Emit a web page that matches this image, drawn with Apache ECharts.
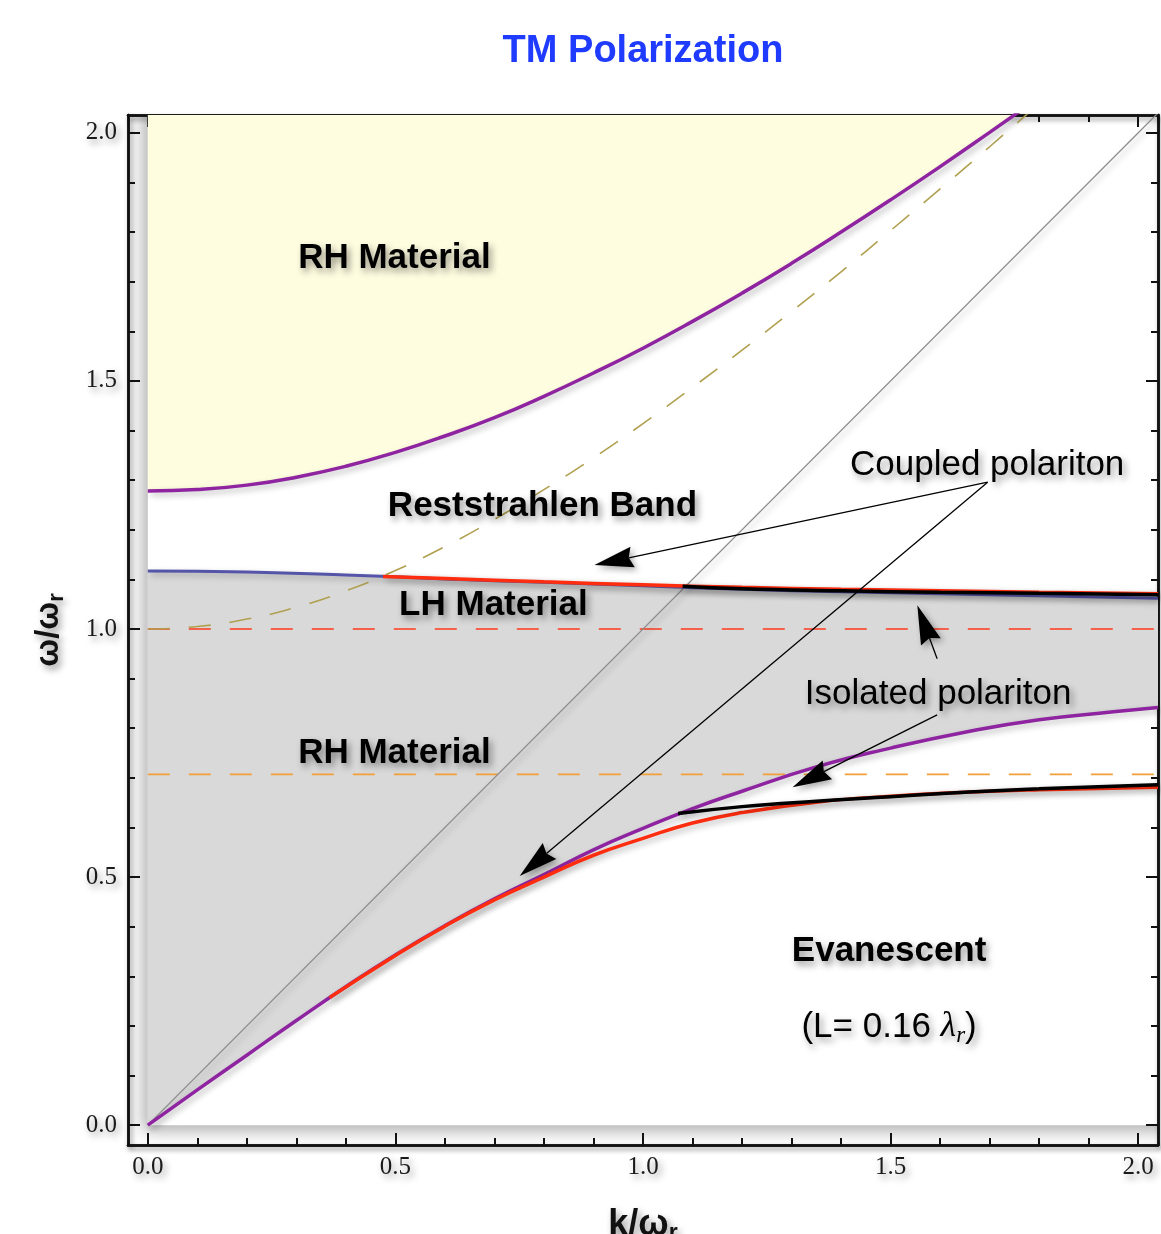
<!DOCTYPE html>
<html>
<head>
<meta charset="utf-8">
<script src="https://cdn.jsdelivr.net/npm/echarts@6/dist/echarts.min.js"></script>
<style>
  html, body { margin: 0; padding: 0; background: #ffffff; }
  #chart { width: 1161px; height: 1234px; }
</style>
</head>
<body>
<div id="chart"></div>
<script>
// ---- axis extents (k/ωr horizontally, ω/ωr vertically) ----
const K_MIN = -0.04, K_MAX = 2.04;
const W_MIN = -0.04, W_MAX = 2.036;
const majorTicks = [0, 0.5, 1.0, 1.5, 2.0];
const minorTicks = [0.1, 0.2, 0.3, 0.4, 0.6, 0.7, 0.8, 0.9, 1.1, 1.2, 1.3, 1.4, 1.6, 1.7, 1.8, 1.9];

// lower edge of the upper right-handed band
const upperRhK = [0, 0.1, 0.2, 0.3, 0.4, 0.5, 0.6, 0.7, 0.8, 0.9, 1.0, 1.1, 1.2, 1.3, 1.4, 1.5, 1.6, 1.7, 1.76];
const upperRhW = [1.278, 1.281, 1.290, 1.306, 1.328, 1.356, 1.389, 1.426, 1.469, 1.516, 1.566, 1.620, 1.677, 1.737, 1.800, 1.865, 1.932, 2.001, 2.043];

// light line in the medium (dashed)
const mediumLightK = [0, 0.1, 0.2, 0.3, 0.4, 0.5, 0.6, 0.7, 0.8, 0.9, 1.0, 1.1, 1.2, 1.3, 1.4, 1.5, 1.6, 1.7, 1.8];
const mediumLightW = [1.000, 1.005, 1.020, 1.044, 1.077, 1.118, 1.166, 1.221, 1.281, 1.345, 1.414, 1.487, 1.562, 1.640, 1.720, 1.803, 1.887, 1.972, 2.059];

// upper edge of the left-handed band
const lhTopK = [0, 0.2, 0.4, 0.6, 0.8, 1.0, 1.2, 1.4, 1.6, 1.8, 2.04];
const lhTopW = [1.117, 1.115, 1.109, 1.101, 1.094, 1.087, 1.080, 1.075, 1.071, 1.067, 1.062];

// upper edge of the lower right-handed band
const rhLowK = [0, 0.1, 0.2, 0.3, 0.4, 0.5, 0.6, 0.7, 0.8, 0.9, 1.0, 1.1, 1.2, 1.35, 1.5, 1.65, 1.8, 1.95, 2.04];
const rhLowW = [0, 0.071, 0.141, 0.211, 0.279, 0.343, 0.402, 0.456, 0.505, 0.555, 0.598, 0.638, 0.673, 0.722, 0.760, 0.792, 0.817, 0.833, 0.842];

// coupled polariton branches (red)
const coupledUpK = [0.475, 0.6, 0.8, 1.0, 1.2, 1.4, 1.6, 1.8, 2.04];
const coupledUpW = [1.106, 1.102, 1.095, 1.089, 1.084, 1.080, 1.077, 1.074, 1.071];
const coupledLowK = [0.367, 0.5, 0.6, 0.7, 0.8, 0.9, 1.0, 1.1, 1.2, 1.35, 1.5, 1.65, 1.8, 2.04];
const coupledLowW = [0.257, 0.342, 0.401, 0.454, 0.500, 0.544, 0.578, 0.609, 0.630, 0.651, 0.663, 0.671, 0.676, 0.681];

// isolated polariton branches (black)
const isolatedUpK = [1.08, 1.2, 1.4, 1.6, 1.8, 2.04];
const isolatedUpW = [1.086, 1.081, 1.077, 1.074, 1.072, 1.069];
const isolatedLowK = [1.071, 1.2, 1.35, 1.5, 1.65, 1.8, 2.04];
const isolatedLowW = [0.628, 0.642, 0.653, 0.662, 0.671, 0.678, 0.686];

// vacuum light line and horizontal reference levels
const vacuumK = [0, 2.1];
const vacuumW = [0, 2.1];
const levelResonance = 1.0;
const levelLower = 0.707;

// annotation arrows: tail and tip, in (k, ω)
const arrowTails = [[1.696, 1.296], [1.696, 1.296], [1.594, 0.827], [1.594, 0.940]];
const arrowTips  = [[0.902, 1.129], [0.751, 0.502], [1.302, 0.681], [1.554, 1.048]];

// region and branch labels
const labelTexts = ['RH Material', 'Reststrahlen Band', 'LH Material', 'RH Material',
                    'Evanescent', 'Coupled polariton', 'Isolated polariton', 'L'];
const labelAnchors = [[0.498, 1.748], [0.797, 1.248], [0.698, 1.048], [0.498, 0.750],
                      [1.497, 0.351], [1.695, 1.329], [1.596, 0.869], [1.497, 0.198]];
const labelBold = [true, true, true, true, true, false, false, false];

const zip = (ks, ws) => ks.map((k, i) => [k, ws[i]]);

const SHADOW = { shadowColor: 'rgba(0,0,0,0.28)', shadowBlur: 6, shadowOffsetX: 3, shadowOffsetY: 3 };
const TEXT_SHADOW = { textShadowColor: 'rgba(0,0,0,0.42)', textShadowBlur: 7, textShadowOffsetX: 3, textShadowOffsetY: 4 };

function curve(name, ks, ws, color, width, extra) {
  return Object.assign({
    name, type: 'line', data: zip(ks, ws), smooth: true, symbol: 'none', showSymbol: false,
    silent: true, z: 5,
    lineStyle: Object.assign({ color, width }, SHADOW)
  }, extra || {});
}

function dashed(name, ks, ws, color, smooth) {
  return {
    name, type: 'line', data: zip(ks, ws), smooth: !!smooth, symbol: 'none', showSymbol: false,
    silent: true, z: 4,
    lineStyle: { color, width: 1.6, type: [22, 19] }
  };
}

const axisLine = { show: true, onZero: false,
  lineStyle: { color: '#111', width: 2.5, shadowColor: 'rgba(0,0,0,0.25)', shadowBlur: 5, shadowOffsetX: 2, shadowOffsetY: 3 } };
const tickLabel = Object.assign({
  fontFamily: '"Liberation Serif", "DejaVu Serif", serif', fontSize: 25, color: '#1a1a1a',
  formatter: v => Number(v).toFixed(1)
}, TEXT_SHADOW);

function xAxisOf(position, major, withLabels) {
  return {
    type: 'value', min: K_MIN, max: K_MAX, position,
    axisLine,
    splitLine: { show: false },
    axisTick: { show: true, inside: true, length: major ? 12 : 7, customValues: major ? majorTicks : minorTicks,
                lineStyle: { color: '#111', width: 2 } },
    axisLabel: withLabels ? Object.assign({ show: true, margin: 10, customValues: majorTicks }, tickLabel) : { show: false }
  };
}
function yAxisOf(position, major, withLabels) {
  return {
    type: 'value', min: W_MIN, max: W_MAX, position,
    axisLine,
    splitLine: { show: false },
    axisTick: { show: true, inside: true, length: major ? 12 : 7, customValues: major ? majorTicks : minorTicks,
                lineStyle: { color: '#111', width: 2 } },
    axisLabel: withLabels ? Object.assign({ show: true, margin: 11, customValues: majorTicks }, tickLabel) : { show: false }
  };
}

const xAxes = [xAxisOf('bottom', true, true), xAxisOf('bottom', false, false), xAxisOf('top', true, false), xAxisOf('top', false, false)];
const yAxes = [yAxisOf('left', true, true), yAxisOf('left', false, false), yAxisOf('right', true, false), yAxisOf('right', false, false)];

Object.assign(xAxes[0], {
  name: '{m|k/ω}{s|r}', nameLocation: 'middle', nameGap: 60,
  nameTextStyle: {
    rich: {
      m: Object.assign({ fontFamily: '"Liberation Sans", Arial, sans-serif', fontWeight: 'bold', fontSize: 36, color: '#111', lineHeight: 40 }, TEXT_SHADOW),
      s: Object.assign({ fontFamily: '"Liberation Sans", Arial, sans-serif', fontWeight: 'bold', fontSize: 23, color: '#111', lineHeight: 24, verticalAlign: 'bottom' }, TEXT_SHADOW)
    }
  }
});
Object.assign(yAxes[0], {
  name: '{m|ω/ω}{s|r}', nameLocation: 'middle', nameGap: 60, nameRotate: 90,
  nameTextStyle: {
    rich: {
      m: Object.assign({ fontFamily: '"Liberation Sans", Arial, sans-serif', fontWeight: 'bold', fontSize: 33, color: '#111', lineHeight: 38 }, TEXT_SHADOW),
      s: Object.assign({ fontFamily: '"Liberation Sans", Arial, sans-serif', fontWeight: 'bold', fontSize: 22, color: '#111', lineHeight: 22, verticalAlign: 'bottom' }, TEXT_SHADOW)
    }
  }
});

// white plot region with a soft shadow on its lower-left side
const plotRegion = {
  type: 'custom', coordinateSystem: 'cartesian2d', silent: true, clip: true, z: 0,
  data: [[0, 0]],
  renderItem: (params, api) => {
    const a = api.coord([0, W_MAX + 0.1]);
    const b = api.coord([K_MAX + 0.1, 0]);
    return {
      type: 'rect',
      shape: { x: a[0], y: a[1], width: b[0] - a[0], height: b[1] - a[1] },
      style: { fill: '#ffffff', shadowColor: 'rgba(0,0,0,0.32)', shadowBlur: 16, shadowOffsetX: -5, shadowOffsetY: 6 }
    };
  }
};

// yellow band above the upper RH edge
const upperBand = {
  type: 'custom', coordinateSystem: 'cartesian2d', silent: true, clip: true, z: 1,
  data: [[0, 0]],
  renderItem: (params, api) => {
    const pts = zip(upperRhK, upperRhW).map(p => api.coord(p));
    pts.push(api.coord([upperRhK[upperRhK.length - 1], W_MAX + 0.1]));
    pts.push(api.coord([0, W_MAX + 0.1]));
    return { type: 'polygon', shape: { points: pts }, style: { fill: '#fffde0' } };
  }
};

// grey band between the LH top edge and the lower RH edge
const middleBand = {
  type: 'custom', coordinateSystem: 'cartesian2d', silent: true, clip: true, z: 1,
  data: [[0, 0]],
  renderItem: (params, api) => {
    const top = zip(lhTopK, lhTopW).map(p => api.coord(p));
    const bottom = zip(rhLowK, rhLowW).map(p => api.coord(p)).reverse();
    return { type: 'polygon', shape: { points: top.concat(bottom) }, style: { fill: '#d9d9d9' } };
  }
};

// annotation arrows with filled heads
const arrows = {
  type: 'custom', coordinateSystem: 'cartesian2d', silent: true, clip: false, z: 8,
  data: arrowTips.map((t, i) => [t[0], t[1], i]),
  renderItem: (params, api) => {
    const i = api.value(2);
    const p0 = api.coord(arrowTails[i]);
    const p1 = api.coord(arrowTips[i]);
    const dx = p1[0] - p0[0], dy = p1[1] - p0[1];
    const len = Math.hypot(dx, dy);
    const ux = dx / len, uy = dy / len, nx = -uy, ny = ux;
    const HL = 39, HW = 10.5, NOTCH = 4;
    const bx = p1[0] - ux * HL, by = p1[1] - uy * HL;
    const nxp = p1[0] - ux * (HL - NOTCH), nyp = p1[1] - uy * (HL - NOTCH);
    return {
      type: 'group',
      children: [
        { type: 'line', shape: { x1: p0[0], y1: p0[1], x2: nxp, y2: nyp },
          style: { stroke: '#000', lineWidth: 1.3 } },
        { type: 'polygon', shape: { points: [[p1[0], p1[1]], [bx + nx * HW, by + ny * HW], [nxp, nyp], [bx - nx * HW, by - ny * HW]] },
          style: { fill: '#000', shadowColor: 'rgba(0,0,0,0.35)', shadowBlur: 6, shadowOffsetX: 3, shadowOffsetY: 3 } }
      ]
    };
  }
};

const sansBold = '"Liberation Sans", Arial, sans-serif';
const labels = {
  type: 'scatter', symbolSize: 0, silent: true, z: 10,
  itemStyle: { opacity: 1 },
  data: labelAnchors.map((p, i) => {
    const item = { value: p };
    if (labelTexts[i] === 'L') {
      item.label = {
        formatter: '{n|(L= 0.16 }{l|λ}{s|r}{n|)}',
        rich: {
          n: Object.assign({ fontFamily: sansBold, fontSize: 35, color: '#000', lineHeight: 42 }, TEXT_SHADOW),
          l: Object.assign({ fontFamily: '"Liberation Serif", serif', fontStyle: 'italic', fontSize: 36, color: '#000', lineHeight: 42 }, TEXT_SHADOW),
          s: Object.assign({ fontFamily: '"Liberation Serif", serif', fontStyle: 'italic', fontSize: 23, color: '#000', lineHeight: 25, verticalAlign: 'bottom' }, TEXT_SHADOW)
        }
      };
    } else {
      item.label = { formatter: labelTexts[i], fontWeight: labelBold[i] ? 'bold' : 'normal' };
    }
    return item;
  }),
  label: Object.assign({
    show: true, position: 'inside', fontFamily: sansBold, fontSize: 35, color: '#000', opacity: 1
  }, TEXT_SHADOW)
};

const option = {
  animation: false,
  backgroundColor: '#ffffff',
  grid: { left: 128, right: 3, top: 115, bottom: 89, containLabel: false, outerBoundsMode: 'none' },
  xAxis: xAxes,
  yAxis: yAxes,
  graphic: [{
    type: 'text', x: 643, y: 52, z: 20,
    style: {
      text: 'TM Polarization', fill: '#1f3bff', align: 'center', verticalAlign: 'middle',
      fontFamily: sansBold, fontWeight: 'bold', fontSize: 38,
      shadowColor: 'rgba(0,0,0,0.35)', shadowBlur: 8, shadowOffsetX: 3, shadowOffsetY: 4
    }
  }],
  series: [
    plotRegion,
    upperBand,
    middleBand,
    dashed('ω = ωr', [0, K_MAX], [levelResonance, levelResonance], '#ff3a1c'),
    dashed('lower level', [0, K_MAX], [levelLower, levelLower], '#f2a03a'),
    curve('vacuum light line', vacuumK, vacuumW, '#8c8c8c', 1.3, { smooth: false, z: 4 }),
    dashed('medium light line', mediumLightK, mediumLightW, '#b0a050', true),
    curve('upper RH edge', upperRhK, upperRhW, '#8e24a0', 3.5),
    curve('lower RH edge', rhLowK, rhLowW, '#8e24a0', 3.5),
    curve('LH top edge', lhTopK, lhTopW, '#5454a8', 3),
    curve('coupled upper', coupledUpK, coupledUpW, '#ff2d0f', 3.5),
    curve('isolated upper', isolatedUpK, isolatedUpW, '#000000', 3.5),
    curve('coupled lower', coupledLowK, coupledLowW, '#ff2d0f', 3.5),
    curve('isolated lower', isolatedLowK, isolatedLowW, '#000000', 3.5),
    arrows,
    labels
  ]
};

const chart = echarts.init(document.getElementById('chart'), null, { renderer: 'canvas' });
chart.setOption(option);
</script>
</body>
</html>
